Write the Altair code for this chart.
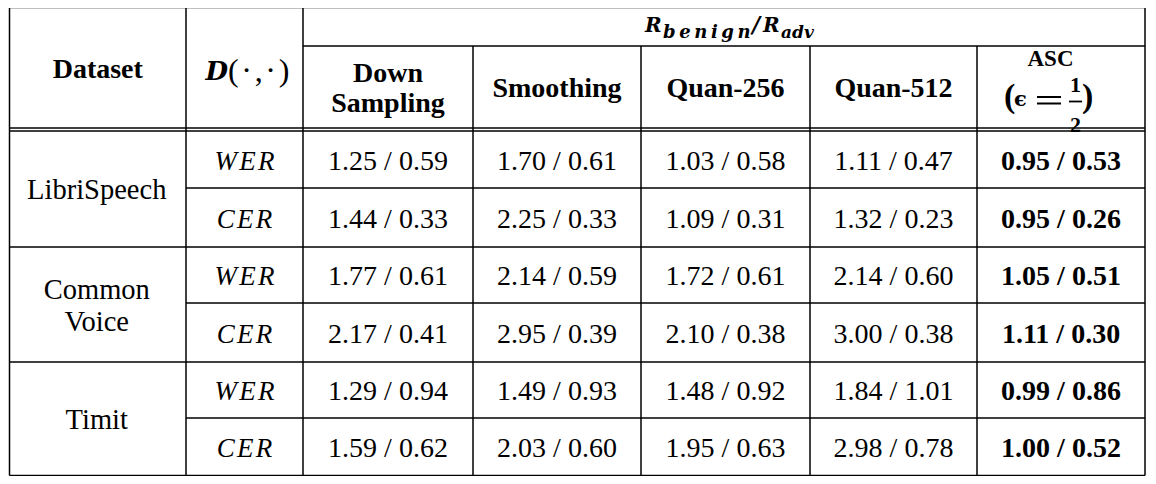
import altair as alt
import pandas as pd

# ---------------- data ----------------
datasets = ["LibriSpeech", "Common\nVoice", "Timit"]
metrics = ["WER", "CER"]
methods = ["Down\nSampling", "Smoothing", "Quan-256", "Quan-512", "ASC"]

down_benign = [1.25, 1.44, 1.77, 2.17, 1.29, 1.59]
down_adv = [0.59, 0.33, 0.61, 0.41, 0.94, 0.62]
smooth_benign = [1.70, 2.25, 2.14, 2.95, 1.49, 2.03]
smooth_adv = [0.61, 0.33, 0.59, 0.39, 0.93, 0.60]
q256_benign = [1.03, 1.09, 1.72, 2.10, 1.48, 1.95]
q256_adv = [0.58, 0.31, 0.61, 0.38, 0.92, 0.63]
q512_benign = [1.11, 1.32, 2.14, 3.00, 1.84, 2.98]
q512_adv = [0.47, 0.23, 0.60, 0.38, 1.01, 0.78]
asc_benign = [0.95, 0.95, 1.05, 1.11, 0.99, 1.00]
asc_adv = [0.53, 0.26, 0.51, 0.30, 0.86, 0.52]

# ---------------- table geometry (page pixels) ----------------
col_edges = [9.5, 186, 303, 473, 641, 810, 977, 1145]
row_edges = [131, 188, 247, 303, 362, 418, 475.5]
top, sub_top, head_bot1, head_bot2 = 7.5, 46, 128, 131
FONT = "'Liberation Serif', 'Times New Roman', Times, serif"
MATH = "'DejaVu Serif', serif"

xs = alt.Scale(domain=[8, 1148], nice=False, zero=False)
ys = alt.Scale(domain=[476, 8], nice=False, zero=False)
X = alt.X("x:Q", scale=xs, axis=None)
Y = alt.Y("y:Q", scale=ys, axis=None)


def ccol(i):
    return (col_edges[i] + col_edges[i + 1]) / 2


def crow(i):
    return (row_edges[i] + row_edges[i + 1]) / 2


def text_layer(rows, **kw):
    df = pd.DataFrame(rows, columns=["x", "y", "text"])
    params = dict(font=FONT, color="black", baseline="alphabetic", align="center", fontSize=28)
    params.update(kw)
    return alt.Chart(df).mark_text(**params).encode(x=X, y=Y, text="text:N")


def rule_layer(segs, width=1.5):
    df = pd.DataFrame([dict(x=a, x2=b, y=c, y2=d) for a, b, c, d in segs])
    return alt.Chart(df).mark_rule(color="black", strokeWidth=width).encode(
        x=X, x2="x2:Q", y=Y, y2="y2:Q"
    )


# ---------------- rules ----------------
segs = [
    (col_edges[0], col_edges[-1], top, top),
    (col_edges[2], col_edges[-1], sub_top, sub_top),
    (col_edges[0], col_edges[-1], head_bot1, head_bot1),
    (col_edges[0], col_edges[-1], head_bot2, head_bot2),
]
for r in range(1, len(row_edges)):
    x1 = col_edges[0] if r % 2 == 0 else col_edges[1]
    segs.append((x1, col_edges[-1], row_edges[r], row_edges[r]))
for i, xe in enumerate(col_edges):
    y1 = sub_top if 3 <= i <= 6 else top
    segs.append((xe, xe, y1, row_edges[-1]))
rules = rule_layer(segs)

# ---------------- body values ----------------
value_cols = [
    (down_benign, down_adv),
    (smooth_benign, smooth_adv),
    (q256_benign, q256_adv),
    (q512_benign, q512_adv),
]
body_rows = []
for c, (bn, ad) in enumerate(value_cols):
    for r in range(6):
        body_rows.append((ccol(c + 2), crow(r) + 10, f"{bn[r]:.2f} / {ad[r]:.2f}"))
bold_rows = [(ccol(6), crow(r) + 10, f"{asc_benign[r]:.2f} / {asc_adv[r]:.2f}") for r in range(6)]

metric_rows = []
for r in range(6):
    m = metrics[r % 2]
    metric_rows.append((ccol(1), crow(r) + 10, "\u200a".join(m)))

ds_rows = []
for g, name in enumerate(datasets):
    center = (row_edges[2 * g] + row_edges[2 * g + 2]) / 2
    n = name.count("\n") + 1
    ds_rows.append((ccol(0) - 1, center + 10 - 16 * (n - 1), name))

# ---------------- headers ----------------
head_center = (top + head_bot1) / 2
sub_center = (sub_top + head_bot1) / 2
header_rows = [(ccol(0), head_center + 10, "Dataset")]
for k, m in enumerate(methods[:4]):
    n = m.count("\n") + 1
    header_rows.append((ccol(k + 2), sub_center + 10 - 15 * (n - 1), m))

layers = [
    rules,
    text_layer(body_rows, fontSize=28),
    text_layer(bold_rows, fontSize=28, fontWeight="bold"),
    text_layer(metric_rows, fontSize=27, fontStyle="italic"),
    text_layer(ds_rows, fontSize=28.5, lineBreak="\n", lineHeight=32),
    text_layer(header_rows, fontSize=28, fontWeight="bold", lineBreak="\n", lineHeight=30),
    # D(.,.)
    text_layer([(228, 80, "D")], font=MATH, fontSize=26, fontWeight="bold", fontStyle="italic", align="right"),
    text_layer([(228, 81, "(\u200a·\u200a,\u200a·\u200a)")], fontSize=32, align="left"),
    # R_benign / R_adv
    text_layer([(645, 32, "R"), (763, 32, "R")], font=MATH, fontSize=20,
               fontWeight="bold", fontStyle="italic", align="left"),
    text_layer([(752, 32, "/")], font=MATH, fontSize=22, fontWeight="bold", fontStyle="italic", align="left"),
    text_layer([(663, 38, "\u2009".join("benign"))], font=MATH, fontSize=18,
               fontWeight="bold", fontStyle="italic", align="left"),
    text_layer([(781, 38, "adv")], font=MATH, fontSize=17,
               fontWeight="bold", fontStyle="italic", align="left"),
    # ASC (eps = 1/2)
    text_layer([(1050.5, 66, methods[4])], fontSize=23, fontWeight="bold"),
    text_layer([(1004, 106.5, "(")], fontSize=34, fontWeight="bold", align="left"),
    text_layer([(1014, 106, "ϵ")], font=MATH, fontSize=21, fontWeight="bold", align="left"),
    text_layer([(1075.5, 92, "1"), (1075.5, 132, "2")], fontSize=22, fontWeight="bold"),
    text_layer([(1082, 106.5, ")")], fontSize=34, fontWeight="bold", align="left"),
    rule_layer([(1037, 1061, 97, 97), (1037, 1061, 103.5, 103.5)], width=2),
    rule_layer([(1069, 1082, 101.5, 101.5)], width=1.8),
]

chart = alt.layer(*layers).properties(
    width=1140, height=468, autosize=alt.AutoSizeParams(type="none"), padding=0,
    background="white",
).configure_view(stroke=None)

chart.save("out.html", embed_options={"renderer": "svg", "actions": False})
